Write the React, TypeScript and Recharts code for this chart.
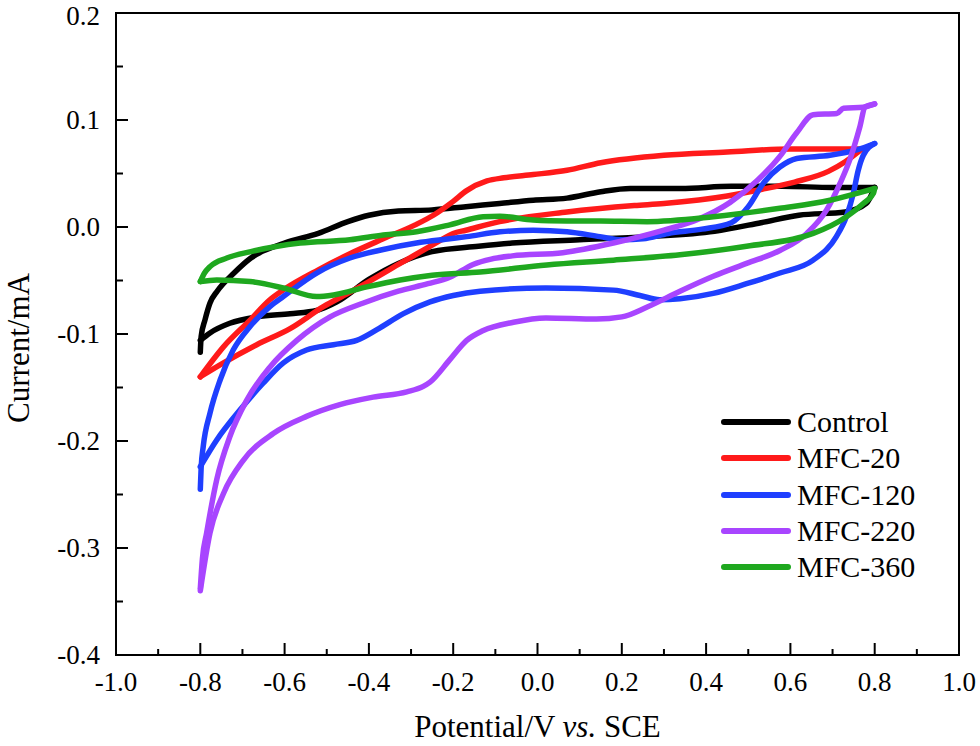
import { LineChart, Line, XAxis, YAxis, ReferenceArea } from "recharts";

// cyclic voltammetry loops, [potential V, current mA]
// forward = anodic scan -0.8 -> 0.8, reverse = back to -0.8 (scan order)
const controlFwd = [
  [-0.8, -0.117], [-0.798, -0.1025], [-0.789, -0.087], [-0.777, -0.071], [-0.76, -0.06],
  [-0.72, -0.043], [-0.68, -0.029], [-0.6, -0.015], [-0.52, -0.006], [-0.45, 0.005],
  [-0.4, 0.011], [-0.33, 0.015], [-0.25, 0.016], [-0.17, 0.019], [-0.09, 0.022],
  [-0.01, 0.025], [0.07, 0.027], [0.15, 0.033], [0.22, 0.036], [0.34, 0.036],
  [0.46, 0.038], [0.58, 0.038], [0.7, 0.037], [0.8, 0.037],
];
const controlRev = [
  [0.8, 0.037], [0.78, 0.022], [0.73, 0.014], [0.62, 0.011], [0.53, 0.004],
  [0.42, -0.004], [0.26, -0.009], [0.1, -0.012], [-0.06, -0.015], [-0.14, -0.018],
  [-0.25, -0.023], [-0.33, -0.034], [-0.4, -0.049], [-0.476, -0.07], [-0.524, -0.078],
  [-0.587, -0.081], [-0.666, -0.084], [-0.73, -0.09], [-0.777, -0.099], [-0.8, -0.106],
];

const mfc20Fwd = [
  [-0.8, -0.14], [-0.745, -0.112], [-0.682, -0.087], [-0.635, -0.068], [-0.6, -0.058],
  [-0.52, -0.04], [-0.445, -0.025], [-0.366, -0.011], [-0.29, 0.002], [-0.247, 0.011],
  [-0.2, 0.024], [-0.168, 0.034], [-0.12, 0.043], [-0.08, 0.046], [-0.01, 0.049],
  [0.07, 0.053], [0.15, 0.06], [0.3, 0.067], [0.45, 0.07], [0.6, 0.073], [0.77, 0.073],
];
const mfc20Rev = [
  [0.77, 0.073], [0.73, 0.061], [0.69, 0.052], [0.61, 0.042], [0.53, 0.035],
  [0.45, 0.029], [0.3, 0.022], [0.23, 0.02], [0.07, 0.014], [-0.09, 0.005],
  [-0.17, -0.003], [-0.2, -0.006], [-0.215, -0.009], [-0.25, -0.017], [-0.33, -0.035],
  [-0.4, -0.051], [-0.45, -0.062], [-0.508, -0.0745], [-0.587, -0.095], [-0.666, -0.11],
  [-0.745, -0.127], [-0.8, -0.14],
];

const mfc120Fwd = [
  [-0.8, -0.245], [-0.798, -0.225], [-0.793, -0.205], [-0.777, -0.174], [-0.753, -0.143],
  [-0.722, -0.115], [-0.682, -0.093], [-0.635, -0.0745], [-0.603, -0.065], [-0.524, -0.043],
  [-0.445, -0.029], [-0.366, -0.021], [-0.287, -0.015], [-0.208, -0.011], [-0.168, -0.009],
  [-0.089, -0.0045], [-0.01, -0.003], [0.07, -0.0045], [0.148, -0.009], [0.2, -0.012],
  [0.25, -0.011], [0.31, -0.006], [0.39, -0.002], [0.46, 0.004], [0.5, 0.019],
  [0.536, 0.041], [0.575, 0.056], [0.615, 0.064], [0.694, 0.067], [0.757, 0.072],
  [0.8, 0.078],
];
const mfc120Rev = [
  [0.8, 0.078], [0.773, 0.067], [0.761, 0.053], [0.749, 0.031], [0.733, 0.01],
  [0.709, -0.009], [0.654, -0.031], [0.575, -0.043], [0.496, -0.053], [0.417, -0.062],
  [0.338, -0.067], [0.29, -0.068], [0.243, -0.064], [0.18, -0.059], [0.02, -0.057],
  [-0.136, -0.06], [-0.2, -0.064], [-0.255, -0.07], [-0.318, -0.081], [-0.381, -0.096],
  [-0.429, -0.106], [-0.484, -0.11], [-0.548, -0.115], [-0.603, -0.127], [-0.651, -0.146],
  [-0.706, -0.171], [-0.761, -0.199], [-0.8, -0.224],
];

const mfc220Fwd = [
  [-0.8, -0.338], [-0.795, -0.31], [-0.785, -0.286], [-0.761, -0.236], [-0.73, -0.196],
  [-0.69, -0.162], [-0.635, -0.131], [-0.571, -0.106], [-0.492, -0.084], [-0.413, -0.071],
  [-0.33, -0.06], [-0.26, -0.053], [-0.208, -0.047], [-0.153, -0.035], [-0.11, -0.03],
  [-0.06, -0.027], [0.06, -0.024], [0.18, -0.015], [0.3, -0.003], [0.38, 0.007],
  [0.457, 0.023], [0.52, 0.043], [0.575, 0.066], [0.615, 0.088], [0.654, 0.105],
  [0.71, 0.106], [0.726, 0.111], [0.773, 0.112], [0.8, 0.115],
];
const mfc220Rev = [
  [0.8, 0.115], [0.777, 0.112], [0.765, 0.094], [0.741, 0.063], [0.718, 0.041],
  [0.686, 0.016], [0.639, -0.006], [0.575, -0.022], [0.496, -0.034], [0.417, -0.046],
  [0.338, -0.06], [0.259, -0.075], [0.2, -0.084], [0.14, -0.086], [0.02, -0.085],
  [-0.057, -0.089], [-0.13, -0.097], [-0.168, -0.106], [-0.208, -0.124], [-0.255, -0.145],
  [-0.271, -0.149], [-0.31, -0.154], [-0.39, -0.159], [-0.469, -0.166], [-0.548, -0.177],
  [-0.627, -0.193], [-0.698, -0.218], [-0.745, -0.249], [-0.777, -0.286], [-0.8, -0.34],
];

const mfc360Fwd = [
  [-0.8, -0.051], [-0.79, -0.043], [-0.777, -0.037], [-0.737, -0.029], [-0.68, -0.023],
  [-0.563, -0.015], [-0.445, -0.012], [-0.366, -0.0075], [-0.287, -0.0044], [-0.208, 0.002],
  [-0.129, 0.0096], [-0.089, 0.01], [-0.01, 0.0065], [0.07, 0.0056], [0.15, 0.0055],
  [0.26, 0.005], [0.417, 0.0096], [0.575, 0.0175], [0.694, 0.025], [0.773, 0.033],
  [0.8, 0.036],
];
const mfc360Rev = [
  [0.8, 0.036], [0.797, 0.0315], [0.773, 0.022], [0.733, 0.0096], [0.654, -0.006],
  [0.496, -0.018], [0.338, -0.026], [0.18, -0.031], [0.022, -0.0355], [-0.136, -0.042],
  [-0.25, -0.045], [-0.326, -0.0495], [-0.405, -0.056], [-0.484, -0.0635], [-0.524, -0.065],
  [-0.603, -0.057], [-0.682, -0.051], [-0.761, -0.0495], [-0.8, -0.051],
];

const xTicks = [-1.0, -0.9, -0.8, -0.7, -0.6, -0.5, -0.4, -0.3, -0.2, -0.1, 0.0, 0.1, 0.2, 0.3, 0.4, 0.5, 0.6, 0.7, 0.8, 0.9, 1.0];
const yTicks = [-0.4, -0.35, -0.3, -0.25, -0.2, -0.15, -0.1, -0.05, 0.0, 0.05, 0.1, 0.15, 0.2];

const series = [
  { name: "Control", color: "#000000", fwd: controlFwd, rev: controlRev },
  { name: "MFC-20", color: "#ff1a1a", fwd: mfc20Fwd, rev: mfc20Rev },
  { name: "MFC-120", color: "#1f3fff", fwd: mfc120Fwd, rev: mfc120Rev },
  { name: "MFC-220", color: "#a845ff", fwd: mfc220Fwd, rev: mfc220Rev },
  { name: "MFC-360", color: "#1fa81f", fwd: mfc360Fwd, rev: mfc360Rev },
];

const FONT = "'Liberation Serif', 'Times New Roman', serif";

const toPts = (arr: number[][]) => arr.map(([x, y]) => ({ x, y }));

function XTick(props: any) {
  const { x, y, payload } = props;
  const v = payload.value as number;
  const major = Math.round(v * 10) % 2 === 0;
  return (
    <g>
      <line x1={x} x2={x} y1={y} y2={y - (major ? 12 : 6)} stroke="#000" strokeWidth={2} />
      {major && (
        <text x={x} y={y + 36} textAnchor="middle" fontSize={27} fontFamily={FONT} fill="#000">
          {v.toFixed(1)}
        </text>
      )}
    </g>
  );
}

function YTick(props: any) {
  const { x, y, payload } = props;
  const v = payload.value as number;
  const major = Math.round(v * 100) % 10 === 0;
  // keep the top label inside the picture
  const base = Math.max(y + 9, 25);
  return (
    <g>
      <line x1={x} x2={x + (major ? 12 : 7)} y1={y} y2={y} stroke="#000" strokeWidth={2} />
      {major && (
        <text x={x - 16} y={base} textAnchor="end" fontSize={27} fontFamily={FONT} fill="#000">
          {v.toFixed(1)}
        </text>
      )}
    </g>
  );
}

function XTitle(props: any) {
  const { viewBox } = props;
  return (
    <text
      x={viewBox.x + viewBox.width / 2}
      y={viewBox.y + 82}
      textAnchor="middle"
      fontSize={31}
      fontFamily={FONT}
      fill="#000"
    >
      Potential/V <tspan fontStyle="italic">vs.</tspan> SCE
    </text>
  );
}

function YTitle() {
  return (
    <text
      x={29}
      y={348}
      transform="rotate(-90 29 348)"
      textAnchor="middle"
      fontSize={31}
      fontFamily={FONT}
      fill="#000"
    >
      Current/mA
    </text>
  );
}

export default function App() {
  return (
    <div style={{ position: "absolute", left: 0, top: 0, width: 980, height: 746, background: "#fff" }}>
      <LineChart width={980} height={746} margin={{ top: 13, right: 21, bottom: 0, left: 0 }}>
        <XAxis
          type="number"
          dataKey="x"
          domain={[-1, 1]}
          ticks={xTicks}
          interval={0}
          height={91}
          tickSize={0}
          tickMargin={0}
          tickLine={false}
          axisLine={{ stroke: "#000", strokeWidth: 2 }}
          tick={(p: any) => <XTick {...p} />}
          label={<XTitle />}
          allowDataOverflow
        />
        <YAxis
          type="number"
          dataKey="y"
          domain={[-0.4, 0.2]}
          ticks={yTicks}
          interval={0}
          width={116}
          tickSize={0}
          tickMargin={0}
          tickLine={false}
          axisLine={{ stroke: "#000", strokeWidth: 2 }}
          tick={(p: any) => <YTick {...p} />}
          label={<YTitle />}
          allowDataOverflow
        />
        <ReferenceArea x1={-1} x2={1} y1={-0.4} y2={0.2} fill="none" stroke="#000" strokeWidth={2} />
        {series.flatMap((s) => [
          <Line
            key={s.name + "-fwd"}
            data={toPts(s.fwd)}
            dataKey="y"
            name={s.name}
            type="monotone"
            stroke={s.color}
            strokeWidth={5.5}
            strokeLinecap="round"
            strokeLinejoin="round"
            dot={false}
            activeDot={false}
            isAnimationActive={false}
          />,
          <Line
            key={s.name + "-rev"}
            data={toPts(s.rev.slice().reverse())}
            dataKey="y"
            name={s.name + " (reverse)"}
            type="monotone"
            stroke={s.color}
            strokeWidth={5.5}
            strokeLinecap="round"
            strokeLinejoin="round"
            dot={false}
            activeDot={false}
            isAnimationActive={false}
          />,
        ])}
      </LineChart>
      <div style={{ position: "absolute", left: 721, top: 404, fontFamily: FONT, fontSize: 30, color: "#000" }}>
        {series.map((s) => (
          <div key={s.name} style={{ display: "flex", alignItems: "center", height: 36.3 }}>
            <div style={{ width: 70, height: 6, borderRadius: 3, background: s.color, marginRight: 6 }} />
            <span style={{ lineHeight: "36px" }}>{s.name}</span>
          </div>
        ))}
      </div>
    </div>
  );
}
